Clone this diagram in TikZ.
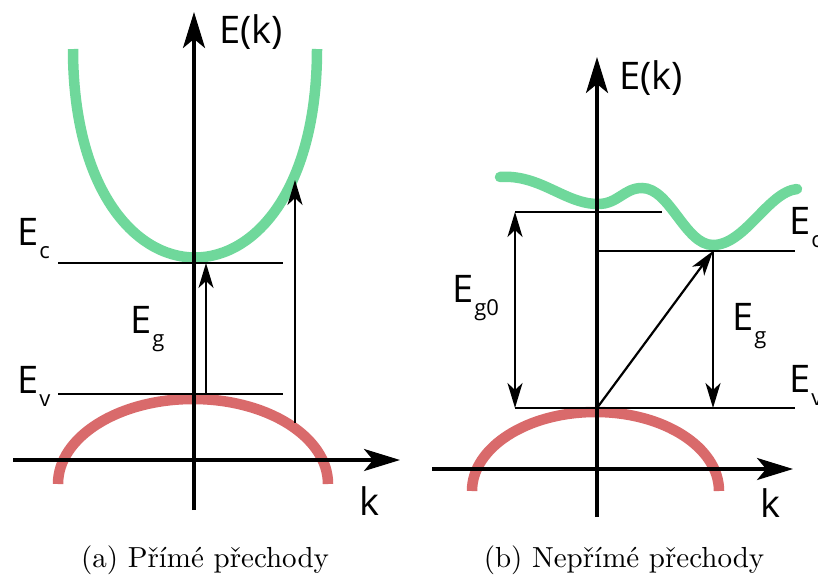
\documentclass[tikz,border=0pt]{standalone}
\usepackage{fontspec}
\usepackage{tikz}
\usetikzlibrary{arrows.meta,positioning,calc}
\newfontfamily\bandfont{Open Sans}
\definecolor{bandCond}{RGB}{111,216,155}
\definecolor{bandVal}{RGB}{217,106,107}
\tikzset{
    bandAxis/.style={line width=3.2pt, -{Stealth[length=36pt,width=22pt,inset=9pt]}},
    bandLevel/.style={line width=2pt},
    bandArrow/.style={line width=2.2pt, -{Stealth[length=25pt,width=15pt,inset=7pt]}},
    bandArrowBoth/.style={line width=2.2pt, {Stealth[length=25pt,width=15pt,inset=7pt]}-{Stealth[length=25pt,width=15pt,inset=7pt]}},
    bandCurve/.style={line width=10.5pt, draw=#1},
    bandLabel/.style={font=\bandfont\fontsize{38}{38}\selectfont, inner sep=0pt, anchor=base west},
    capLabel/.style={inner sep=0pt, anchor=base}
}
\newcommand{\bandsub}[2]{#1\kern1pt\raisebox{-13pt}{\fontsize{22}{22}\selectfont #2}}

\begin{document}
\begin{tikzpicture}[x=1pt, y=-1pt]
\useasboundingbox (0,0) rectangle (818,576);

% (a) direct
\coordinate (aYbot) at (194,510);
\coordinate (aYtop) at (194,12);
\coordinate (aXl) at (13,460);
\coordinate (aXr) at (400,460);
\coordinate (aEcL) at (58,263);
\coordinate (aEcR) at (283,263);
\coordinate (aEvL) at (58,394);
\coordinate (aEvR) at (283,394);
\coordinate (aDirS) at (206,394);
\coordinate (aDirE) at (206,263);
\coordinate (aHotS) at (295,423);
\coordinate (aHotE) at (295,180);

\draw[bandCurve=bandCond] (73,49) .. controls (73,327) and (317,327) .. (317,49);
\draw[bandCurve=bandVal] (58,484) arc[start angle=180, end angle=360, x radius=135, y radius=85];

\draw[bandAxis] (aYbot) -- (aYtop);
\draw[bandAxis] (aXl) -- (aXr);
\draw[bandLevel] (aEcL) -- (aEcR);
\draw[bandLevel] (aEvL) -- (aEvR);
\draw[bandArrow] (aDirS) -- (aDirE);
\draw[bandArrow] (aHotS) -- (aHotE);

\node[bandLabel] (aEk) at (219,43) {E(k)};
\node[bandLabel] (aK) at (359,515) {k};
\node[bandLabel] (aEc) at (17,245) {\bandsub{E}{c}};
\node[bandLabel] (aEv) at (17,393) {\bandsub{E}{v}};
\node[bandLabel] (aEg) at (130,333) {\bandsub{E}{g}};
\node[capLabel] (aCap) at (205,567) {\scalebox{2.9}{(a) Přímé přechody}};

% (b) indirect
\coordinate (bYbot) at (597,517);
\coordinate (bYtop) at (597,57);
\coordinate (bXl) at (432,469);
\coordinate (bXr) at (793,469);
\coordinate (bE0L) at (515,212);
\coordinate (bE0R) at (662,212);
\coordinate (bEcL) at (597,251);
\coordinate (bEcR) at (795,251);
\coordinate (bEvL) at (515,408);
\coordinate (bEvR) at (795,408);
\coordinate (bVtop) at (597,408);
\coordinate (bCmin) at (713,251);
\coordinate (bEgB) at (713,408);

\draw[bandCurve=bandCond, line cap=round] (500,177)
    .. controls (540,174) and (565,204) .. (598,204)
    .. controls (618,204) and (624,188) .. (642,188)
    .. controls (670,188) and (685,245) .. (713,245)
    .. controls (745,245) and (768,192) .. (797,189);
\draw[bandCurve=bandVal] (472,491) arc[start angle=180, end angle=360, x radius=123.5, y radius=79];

\draw[bandAxis] (bYbot) -- (bYtop);
\draw[bandAxis] (bXl) -- (bXr);
\draw[bandLevel] (bE0L) -- (bE0R);
\draw[bandLevel] (bEcL) -- (bEcR);
\draw[bandLevel] (bEvL) -- (bEvR);
\draw[bandArrowBoth] (bE0L) -- (bEvL);
\draw[bandArrow] (bVtop) -- (bCmin);
\draw[bandArrow] (bCmin) -- (bEgB);

\node[bandLabel] (bEk) at (619,89) {E(k)};
\node[bandLabel] (bK) at (760,517) {k};
\node[bandLabel] (bEc) at (789,234) {\bandsub{E}{c}};
\node[bandLabel] (bEv) at (789,392) {\bandsub{E}{v}};
\node[bandLabel] (bEg) at (732,330) {\bandsub{E}{g}};
\node[bandLabel] (bEgo) at (452,302) {\bandsub{E}{g0}};
\node[capLabel] (bCap) at (624,567) {\scalebox{2.9}{(b) Nepřímé přechody}};
\end{tikzpicture}
\end{document}
